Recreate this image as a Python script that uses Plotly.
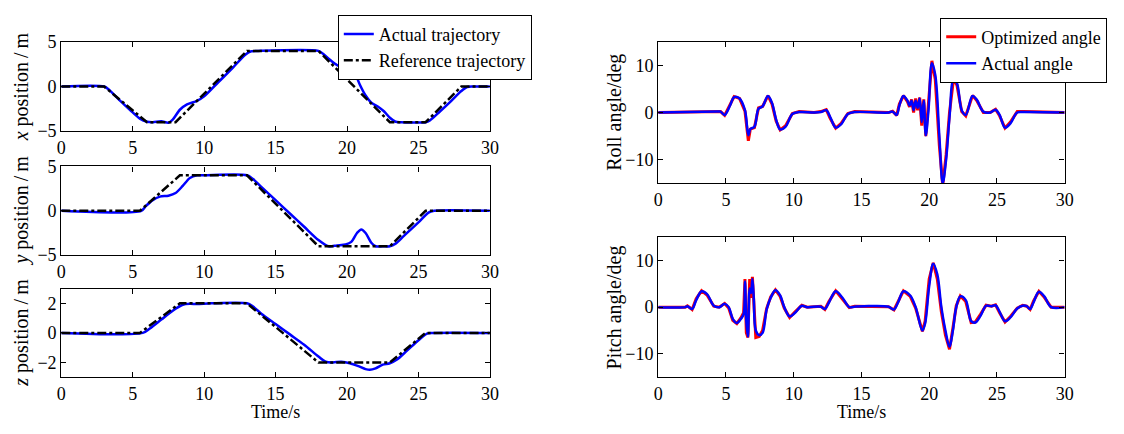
import plotly.graph_objects as go

# ---------------- data ----------------
# x position
t_x_act = [0, 3.0, 3.3, 4.0, 4.8, 5.5, 6.0, 6.4, 7.0, 7.5, 7.8, 8.3, 8.8, 9.5, 10.0, 11, 12, 12.9, 13.3, 13.8,
           18.0, 18.3, 18.8, 19.3, 19.7, 20.2, 20.5, 20.9, 21.3, 21.7, 22.2, 22.6, 23.0, 23.4, 23.8,
           25.5, 25.8, 26.5, 27.3, 28.0, 28.4, 28.8, 30]
x_act = [0, 0, -0.3, -1.4, -2.6, -3.6, -3.95, -4.0, -3.9, -4.05, -3.7, -2.6, -2.0, -1.6, -1.1, 0.5, 2.1, 3.6, 3.95, 4.0,
         4.0, 3.7, 3.0, 2.4, 2.2, 2.2, 1.7, 0.2, -1.0, -1.8, -2.3, -2.8, -3.5, -3.95, -4.0,
         -4.0, -3.8, -2.8, -1.6, -0.5, -0.05, 0, 0]
t_x_ref = [0, 3, 6, 8, 13, 18, 23, 25.5, 28, 30]
x_ref = [0, 0, -4, -4, 4, 4, -4, -4, 0, 0]

# y position
t_y_act = [0, 5.6, 5.9, 6.4, 6.9, 7.5, 8.0, 8.5, 9.0, 9.5, 10, 13.0, 13.4, 14, 15, 16, 17, 18, 18.7,
           19.3, 19.9, 20.3, 20.7, 21.0, 21.3, 21.7, 22.0, 22.5, 23.0, 23.4, 24, 25, 25.7, 26.1, 30]
y_act = [0, 0, 0.5, 1.2, 1.6, 1.7, 2.0, 2.8, 3.7, 4.0, 4.0, 4.0, 3.6, 2.7, 1.2, -0.3, -1.8, -3.3, -4.0,
         -3.9, -3.8, -3.5, -2.5, -2.1, -2.5, -3.6, -4.0, -4.0, -4.0, -3.7, -2.8, -1.3, -0.2, 0, 0]
t_y_ref = [0, 5.5, 8.3, 13, 18, 23, 25.5, 30]
y_ref = [0, 0, 4, 4, -4, -4, 0, 0]

# z position
t_z_act = [0, 5.7, 6.2, 7, 7.8, 8.5, 9.0, 9.5, 10.5, 13.0, 13.4, 14, 15, 16, 17, 18.0, 18.5, 19.0, 19.6,
           20.2, 20.8, 21.3, 21.6, 22.0, 22.5, 23.0, 23.5, 24.2, 25.0, 25.6, 26.0, 30]
z_act = [0, 0, 0.3, 0.9, 1.5, 1.9, 1.97, 1.95, 2.0, 2.0, 1.8, 1.3, 0.6, -0.1, -0.8, -1.6, -1.95, -2.0, -1.95,
         -2.05, -2.25, -2.45, -2.5, -2.4, -2.15, -2.05, -1.8, -1.2, -0.5, -0.05, 0, 0]
t_z_ref = [0, 5.5, 8.3, 13, 18, 23, 25.5, 30]
z_ref = [0, 0, 2, 2, -2, -2, 0, 0]

# roll angle
t_roll = [0, 4.4, 4.6, 4.9, 5.3, 5.6, 6.0, 6.4, 6.65, 6.8, 7.1, 7.4, 7.7, 8.1, 8.4, 8.7, 9.0, 9.4, 9.9, 10.4,
          11.5, 12.0, 12.4, 12.7, 13.1, 13.5, 14.0, 14.5, 17.0, 17.3, 17.6, 17.8, 18.1, 18.4, 18.55, 18.7,
          18.85, 19.0, 19.15, 19.3, 19.45, 19.6, 19.75, 19.95, 20.2, 20.45, 20.75, 21.0, 21.25, 21.5, 21.8,
          22.05, 22.4, 22.7, 23.2, 23.5, 24.0, 24.5, 24.9, 25.2, 25.6, 26.0, 26.5, 27.0, 30]
roll_act = [0, 0.2, 0.2, -0.5, 1.5, 3.3, 3.0, 0.5, -4.8, -3.5, -3.0, 0.8, 1.3, 3.5, 2.0, -1.5, -3.6, -3.0, -0.3, 0.1,
            0, 0.1, 0.5, -1.0, -3.2, -2.5, -0.3, 0.1, 0, 0.2, -0.5, 1.5, 3.5, 2.5, 1.5, 2.5,
            0.5, 2.5, 1.0, 3.0, -2.0, 2.5, -4.8, 0.5, 10.5, 8.0, -5.0, -15, -10, -1.0, 7.0,
            6.2, 0.5, -0.5, 3.5, 2.8, 0.2, 0, 0.6, -0.5, -3.2, -2.3, 0, 0.1, 0]
roll_opt = [0, 0.3, 0.2, -0.6, 1.8, 3.4, 3.0, 0.3, -6.0, -3.5, -3.2, 1.0, 1.3, 3.6, 1.8, -1.8, -3.7, -2.8, -0.2, 0.2,
            0, 0.2, 0.6, -1.3, -3.3, -2.3, -0.2, 0.2, 0, 0.3, -0.6, 1.8, 3.6, 2.3, 1.2, 2.8,
            0.0, 3.0, 0.5, 3.2, -2.8, 2.8, -5.0, 1.5, 11.0, 7.0, -7.0, -15.5, -9.0, 0.0, 7.2,
            5.8, 0.2, -0.7, 3.6, 2.6, 0.0, 0, 0.7, -0.7, -3.3, -2.0, 0.2, 0.2, 0]

# pitch angle
t_pitch = [0, 2.0, 2.15, 2.5, 2.8, 3.2, 3.6, 4.1, 4.5, 4.9, 5.2, 5.5, 5.8, 6.1, 6.3, 6.4, 6.5, 6.62, 6.75, 6.85,
           6.95, 7.05, 7.2, 7.45, 7.7, 8.0, 8.3, 8.65, 9.0, 9.3, 9.7, 10.1, 10.6, 11.0, 12.0, 12.3, 12.6, 13.1,
           13.6, 14.1, 14.5, 15.2, 17.0, 17.4, 17.7, 18.1, 18.6, 19.0, 19.5, 19.7, 20.0, 20.3, 20.6, 20.9, 21.2,
           21.5, 21.75, 22.0, 22.3, 22.7, 23.1, 23.4, 23.8, 24.2, 24.6, 24.9, 25.2, 25.6, 26.0, 26.5, 26.9,
           27.2, 27.45, 27.7, 28.1, 28.5, 29.0, 30]
pitch_act = [0, 0, 0.2, -0.4, 1.5, 3.4, 2.8, 0.3, 0.0, 0.7, 0.0, -2.5, -3.4, -2.5, -1.5, 5.5, -3.0, -6.3, 4.0, 3.0,
             6.0, 2.0, -5.0, -6.0, -5.5, -0.5, 2.0, 3.6, 2.5, 0.0, -2.0, -1.2, 0.3, 0.0, 0.1, -0.4, 1.0, 3.4,
             2.0, 0.0, 0.1, 0.2, 0.1, -0.5, 1.0, 3.4, 2.5, 0.0, -5.0, -3.5, 4.5, 9.3, 7.0, 0.0, -5.0,
             -8.5, -5.0, 0.0, 2.3, 1.5, -3.0, -3.3, -1.8, 0.3, 0.2, 0.4, -1.0, -3.0, -2.2, -0.3, 0.3,
             0.2, -0.4, 1.0, 3.3, 2.3, 0.0, 0]
pitch_opt = [0, 0, 0.3, -0.5, 1.8, 3.5, 2.6, 0.2, 0.0, 0.8, -0.2, -2.8, -3.5, -2.3, -1.2, 6.0, -5.5, -6.5, 6.0, 2.0,
             6.5, 1.0, -6.5, -6.3, -5.0, -0.3, 2.2, 3.7, 2.3, -0.2, -2.2, -1.0, 0.4, 0.0, 0.2, -0.5, 1.2, 3.5,
             1.8, -0.1, 0.2, 0.2, 0.1, -0.6, 1.3, 3.5, 2.3, -0.2, -5.2, -3.0, 6.0, 9.5, 6.0, -1.0, -6.0,
             -9.0, -4.5, 0.3, 2.4, 1.2, -3.3, -3.2, -1.5, 0.4, 0.2, 0.5, -1.2, -3.2, -2.0, -0.2, 0.4,
             0.2, -0.5, 1.3, 3.4, 2.1, 0.0, 0]

for a, b in [(t_x_act, x_act), (t_y_act, y_act), (t_z_act, z_act), (t_roll, roll_act), (t_roll, roll_opt),
             (t_pitch, pitch_act), (t_pitch, pitch_opt)]:
    assert len(a) == len(b), (len(a), len(b))

x_ticks = [0, 5, 10, 15, 20, 25, 30]

# ---------------- figure ----------------
FONT = "Liberation Serif"
W, H = 1124, 434
BLUE = "#0000ff"
RED = "#ff0000"

fig = go.Figure()


def add_pos(t_act, v_act, t_ref, v_ref, xa, ya, show):
    fig.add_trace(go.Scatter(x=t_act, y=v_act, mode="lines", name="Actual trajectory",
                             line=dict(color=BLUE, width=2.5, shape="spline", smoothing=0.8),
                             xaxis=xa, yaxis=ya, showlegend=show, legend="legend", legendrank=1))
    fig.add_trace(go.Scatter(x=t_ref, y=v_ref, mode="lines", name="Reference trajectory",
                             line=dict(color="black", width=2.5, dash="dashdot"),
                             xaxis=xa, yaxis=ya, showlegend=show, legend="legend", legendrank=2))


add_pos(t_x_act, x_act, t_x_ref, x_ref, "x", "y", True)
add_pos(t_y_act, y_act, t_y_ref, y_ref, "x2", "y2", False)
add_pos(t_z_act, z_act, t_z_ref, z_ref, "x3", "y3", False)


def add_ang(t, v_opt, v_act, xa, ya, show):
    fig.add_trace(go.Scatter(x=t, y=v_opt, mode="lines", name="Optimized angle",
                             line=dict(color=RED, width=3),
                             xaxis=xa, yaxis=ya, showlegend=show, legend="legend2", legendrank=1))
    fig.add_trace(go.Scatter(x=t, y=v_act, mode="lines", name="Actual angle",
                             line=dict(color=BLUE, width=2.5, shape="spline", smoothing=1.0),
                             xaxis=xa, yaxis=ya, showlegend=show, legend="legend2", legendrank=2))


add_ang(t_roll, roll_opt, roll_act, "x4", "y4", True)
add_ang(t_pitch, pitch_opt, pitch_act, "x5", "y5", False)


def px_x(p):
    return p / W


def px_y(p):
    return 1 - p / H


axis_common = dict(showline=True, linecolor="black", linewidth=1.3, mirror="ticks", ticks="inside",
                   ticklen=5, tickcolor="black", showgrid=False, zeroline=False,
                   tickfont=dict(family=FONT, size=18, color="black"))

left_x = [px_x(57), px_x(491)]
right_x = [px_x(661.5), px_x(1073)]
domains = {
    "": (left_x, [px_y(127), px_y(33.5)], [-5, 5], [-5, 0, 5]),
    "2": (left_x, [px_y(257), px_y(164)], [-5, 5], [-5, 0, 5]),
    "3": (left_x, [px_y(385), px_y(292)], [-3, 3], [-2, 0, 2]),
    "4": (right_x, [px_y(181.5), px_y(33.5)], [-15, 15], [-10, 0, 10]),
    "5": (right_x, [px_y(385), px_y(238)], [-15, 15], [-10, 0, 10]),
}
layout_axes = {}
for k, (xd, yd, yr, yt) in domains.items():
    layout_axes["xaxis" + k] = dict(domain=xd, range=[0, 30], tickvals=x_ticks, anchor="y" + k, **axis_common)
    layout_axes["yaxis" + k] = dict(domain=yd, range=yr, tickvals=yt, anchor="x" + k, **axis_common)

fig.update_layout(**layout_axes)

ann = []
ylabels = [
    ("<i>x</i> position\u2009/\u2009m", 17, (33.5 + 127) / 2),
    ("<i>y</i> position\u2009/\u2009m", 17, (164 + 257) / 2),
    ("<i>z</i> position\u2009/\u2009m", 17, (292 + 385) / 2),
    ("Roll angle/deg", 617, (33.5 + 181.5) / 2),
    ("Pitch angle/deg", 617, (238 + 385) / 2),
]
for txt, xp, yp in ylabels:
    ann.append(dict(text=txt, x=px_x(xp), y=px_y(yp), xref="paper", yref="paper", showarrow=False,
                    textangle=-90, xanchor="center", yanchor="middle",
                    font=dict(family=FONT, size=20, color="black")))
for xp in [(57 + 491) / 2, (661.5 + 1073) / 2]:
    ann.append(dict(text="Time/s", x=px_x(xp), y=px_y(421), xref="paper", yref="paper", showarrow=False,
                    xanchor="center", yanchor="middle", font=dict(family=FONT, size=18, color="black")))

legend_style = dict(bgcolor="white", bordercolor="black", borderwidth=1,
                    font=dict(family=FONT, size=18, color="black"), tracegroupgap=0,
                    xanchor="left", yanchor="top", itemwidth=30)

fig.update_layout(
    width=W, height=H, margin=dict(l=0, r=0, t=0, b=0),
    paper_bgcolor="white", plot_bgcolor="white",
    font=dict(family=FONT, color="black"),
    annotations=ann,
    legend=dict(x=px_x(337), y=px_y(5), **legend_style),
    legend2=dict(x=px_x(947), y=px_y(8), **legend_style),
)

fig.write_html("out.html")
